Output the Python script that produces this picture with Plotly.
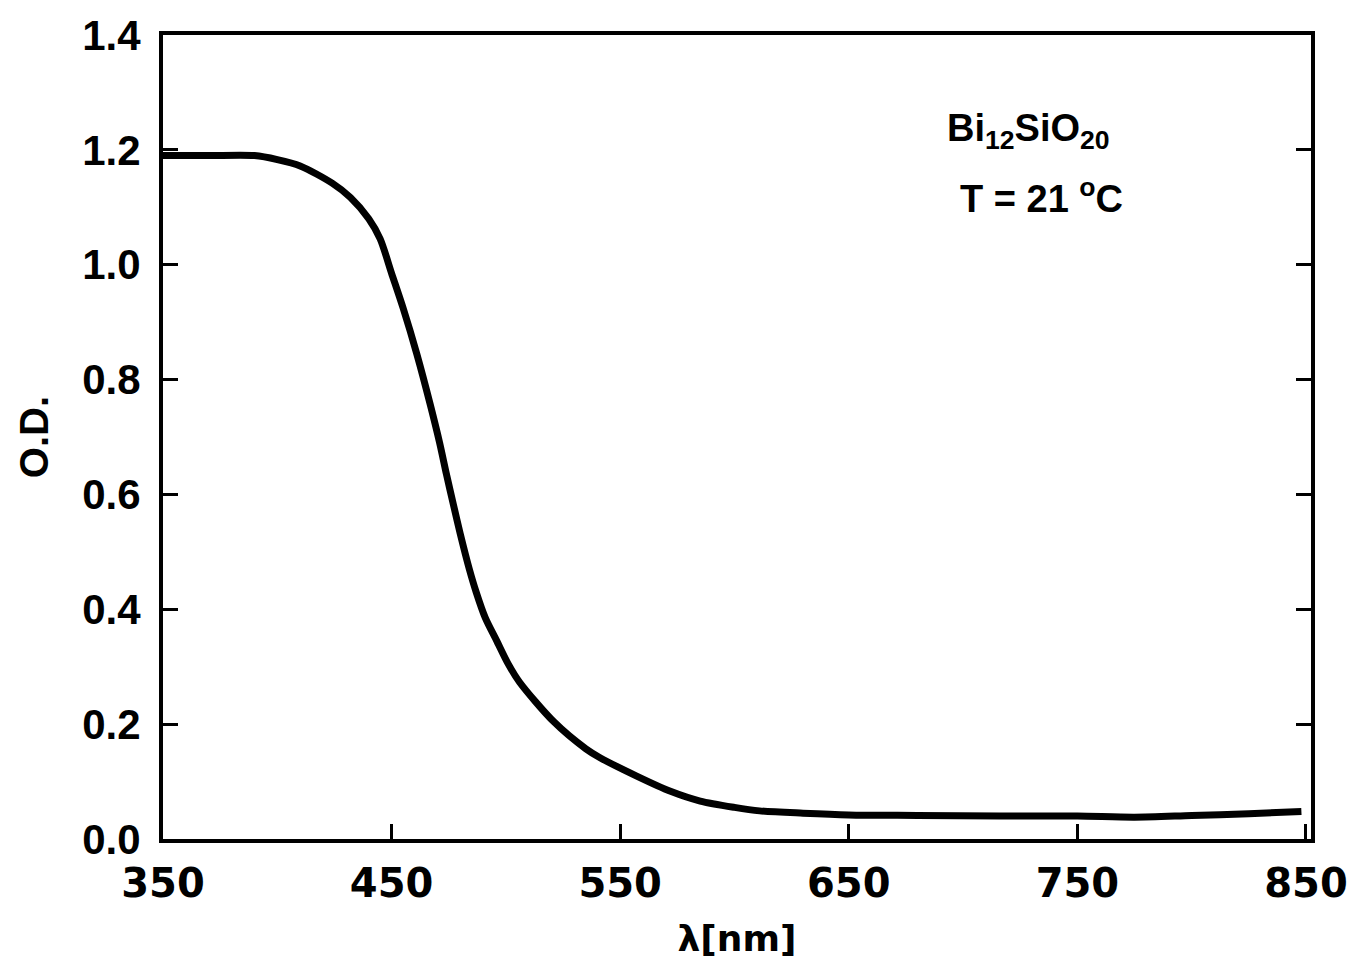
import plotly.graph_objects as go

wavelength = [350, 370, 390, 400, 410, 424, 432, 440, 445, 450, 455, 461, 467, 471,
              474, 477, 480, 484, 487, 491, 496, 501, 506, 521, 535, 541, 557, 572, 585,
              600, 611, 630, 650, 680, 716, 750, 775, 800, 825, 848]
od = [1.19, 1.19, 1.19, 1.183, 1.172, 1.142, 1.117, 1.08, 1.045, 0.985, 0.925,
      0.845, 0.755, 0.69, 0.635, 0.583, 0.532, 0.47, 0.43, 0.385, 0.345, 0.305, 0.273,
      0.204, 0.157, 0.142, 0.11, 0.083, 0.066, 0.055, 0.049, 0.045, 0.042, 0.041, 0.04,
      0.04, 0.038, 0.041, 0.044, 0.048]

x_ticks = [350, 450, 550, 650, 750, 850]
y_ticks = [0.0, 0.2, 0.4, 0.6, 0.8, 1.0, 1.2, 1.4]
y_tick_text = ["0.0", "0.2", "0.4", "0.6", "0.8", "1.0", "1.2", "1.4"]

SANS = "Liberation Sans"
WIDE = "DejaVu Sans"

fig = go.Figure()
fig.add_trace(go.Scatter(x=wavelength, y=od, mode="lines",
                         line=dict(color="black", width=7, shape="spline", smoothing=0.8),
                         showlegend=False))

fig.update_layout(
    width=1360, height=965,
    margin=dict(l=163, r=49, t=32, b=124),
    paper_bgcolor="white", plot_bgcolor="white",
    font=dict(family=SANS, color="black"),
    xaxis=dict(range=[350, 852.2], tickvals=x_ticks, ticktext=[str(v) for v in x_ticks],
               ticks="inside", ticklen=15, tickwidth=3, tickcolor="black",
               showline=True, linewidth=4, linecolor="black", mirror=True,
               showgrid=False, zeroline=False,
               tickfont=dict(family=WIDE, size=40, weight="bold"),
               ticklabelstandoff=6,
               title=dict(text="λ[nm]", font=dict(family=WIDE, size=36, weight="bold"),
                          standoff=22)),
    yaxis=dict(range=[0, 1.4], tickvals=y_ticks, ticktext=y_tick_text,
               ticks="inside", ticklen=15, tickwidth=3, tickcolor="black",
               showline=True, linewidth=4, linecolor="black", mirror="ticks",
               showgrid=False, zeroline=False,
               tickfont=dict(family=SANS, size=42, weight="bold"),
               ticklabelstandoff=10,
               title=dict(text="O.D.", font=dict(family=SANS, size=40, weight="bold"),
                          standoff=22)),
)

fig.add_annotation(x=0.681, y=0.88, xref="paper", yref="paper",
                   xanchor="left", yanchor="middle",
                   text="Bi<sub>12</sub>SiO<sub>20</sub>", showarrow=False,
                   font=dict(family=SANS, size=38, weight="bold"))
fig.add_annotation(x=0.6925, y=0.80, xref="paper", yref="paper",
                   xanchor="left", yanchor="middle",
                   text="T = 21 <sup>o</sup>C", showarrow=False,
                   font=dict(family=SANS, size=38, weight="bold"))

fig.write_html("out.html")
